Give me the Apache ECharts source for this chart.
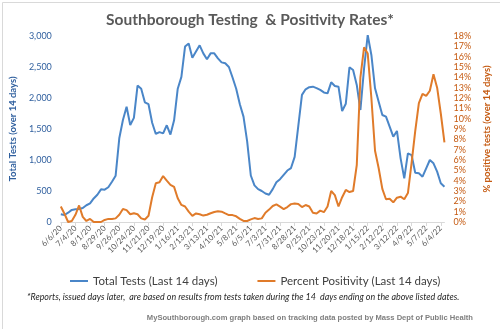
<!DOCTYPE html>
<html><head><meta charset="utf-8">
<script src="https://cdn.jsdelivr.net/npm/echarts@6/dist/echarts.min.js"></script>
<style>html,body{margin:0;padding:0;background:#fff}#c{width:500px;height:329px}</style>
</head><body><div id="c"></div>
<script>
const categories = ['6/6/20','6/13/20','6/20/20','6/27/20','7/4/20','7/11/20','7/18/20','7/25/20','8/1/20','8/8/20','8/15/20','8/22/20','8/29/20','9/5/20','9/12/20','9/19/20','9/26/20','10/3/20','10/10/20','10/17/20','10/24/20','10/31/20','11/7/20','11/14/20','11/21/20','11/28/20','12/5/20','12/12/20','12/19/20','12/26/20','1/2/21','1/9/21','1/16/21','1/23/21','1/30/21','2/6/21','2/13/21','2/20/21','2/27/21','3/6/21','3/13/21','3/20/21','3/27/21','4/3/21','4/10/21','4/17/21','4/24/21','5/1/21','5/8/21','5/15/21','5/22/21','5/29/21','6/5/21','6/12/21','6/19/21','6/26/21','7/3/21','7/10/21','7/17/21','7/24/21','7/31/21','8/7/21','8/14/21','8/21/21','8/28/21','9/4/21','9/11/21','9/18/21','9/25/21','10/2/21','10/9/21','10/16/21','10/23/21','10/30/21','11/6/21','11/13/21','11/20/21','11/27/21','12/4/21','12/11/21','12/18/21','12/25/21','1/1/22','1/8/22','1/15/22','1/22/22','1/29/22','2/5/22','2/12/22','2/19/22','2/26/22','3/5/22','3/12/22','3/19/22','3/26/22','4/2/22','4/9/22','4/16/22','4/23/22','4/30/22','5/7/22','5/14/22','5/21/22','5/28/22','6/4/22','6/11/22'];

const totalTests = [124,113,150,195,204,210,225,270,300,380,440,527,522,560,650,747,1350,1645,1860,1565,1680,2200,2150,1930,1900,1600,1420,1450,1430,1560,1410,1640,2150,2340,2830,2880,2650,2750,2850,2720,2624,2720,2720,2640,2575,2560,2500,2330,2150,1900,1700,1300,750,590,530,500,460,440,530,640,690,760,830,870,1050,1550,2050,2140,2175,2183,2160,2130,2090,2075,2253,2194,2183,1790,1908,2495,2452,2210,1806,2478,3016,2694,2156,1941,1726,1699,1538,1376,1468,1027,704,1107,1080,795,785,731,866,1000,946,812,624,570];

const percentPositivity = [1.5,0.8,0.0,0.1,0.7,1.6,0.5,0.1,0.3,0.0,0.0,0.0,0.2,0.3,0.3,0.35,0.7,1.25,1.15,0.75,0.85,0.75,0.35,0.25,0.6,2.4,3.75,3.85,4.45,4.0,3.6,3.4,2.3,1.65,1.5,1.0,0.6,0.83,0.75,0.62,0.7,0.85,0.97,1.05,1.0,0.83,0.67,0.67,0.55,0.3,0.1,0.1,0.25,0.38,0.3,0.35,0.9,1.2,1.55,1.7,1.48,1.25,1.45,1.73,1.8,1.75,1.45,1.64,1.5,0.9,0.83,1.1,0.95,1.5,3.0,2.6,1.5,2.4,3.1,2.9,3.0,5.5,14.0,16.9,16.3,12.0,6.9,5.2,3.2,2.2,2.25,1.9,2.35,2.45,2.2,2.8,5.7,8.8,11.5,12.4,12.2,12.7,14.3,13.0,10.5,7.7];

const leftTicks = {min: 0, max: 3000, interval: 500};
const rightTicks = {min: 0, max: 18, interval: 1};

const chart = echarts.init(document.getElementById('c'), null, {renderer: 'canvas'});
const F = 'Lato, "Liberation Sans", sans-serif';
chart.setOption({
  animation: false,
  backgroundColor: '#fff',
  title: {
    text: 'Southborough Testing  & Positivity Rates*',
    left: 'center', top: 7,
    textStyle: {fontFamily: F, fontSize: 15.5, fontWeight: 'bold', color: '#595959'}
  },
  legend: {
    left: 65, top: 270, width: 430, itemGap: 40, itemWidth: 18, itemHeight: 2,
    icon: 'rect',
    textStyle: {fontFamily: F, fontSize: 11.5, color: '#404040'},
    data: ['Total Tests (Last 14 days)', 'Percent Positivity (Last 14 days)']
  },
  grid: {left: 55, right: 48, top: 36, bottom: 107},
  xAxis: {
    type: 'category', data: categories, boundaryGap: false,
    axisLine: {lineStyle: {color: '#d9d9d9'}},
    axisTick: {interval: 3, length: 4, lineStyle: {color: '#d9d9d9'}},
    axisLabel: {interval: 3, rotate: 45, fontFamily: F, fontSize: 8, color: '#595959', margin: 5}
  },
  yAxis: [
    {
      type: 'value', min: leftTicks.min, max: leftTicks.max, interval: leftTicks.interval,
      name: 'Total Tests (over 14 days)', nameLocation: 'middle', nameGap: 41, nameRotate: 90,
      nameTextStyle: {fontFamily: F, fontSize: 9.5, fontWeight: 'bold', color: '#2F5F9E'},
      axisLine: {show: false}, axisTick: {show: false}, splitLine: {show: false},
      axisLabel: {fontFamily: F, fontSize: 9, color: '#2F5F9E', margin: 9,
        formatter: v => v.toLocaleString('en-US')}
    },
    {
      type: 'value', min: rightTicks.min, max: rightTicks.max, interval: rightTicks.interval,
      name: '% positive tests (over 14 days)', nameLocation: 'middle', nameGap: 30, nameRotate: 90,
      nameTextStyle: {fontFamily: F, fontSize: 9.5, fontWeight: 'bold', color: '#C55A11'},
      axisLine: {show: false}, axisTick: {show: false}, splitLine: {show: false},
      axisLabel: {fontFamily: F, fontSize: 9, color: '#C55A11', margin: 9, formatter: '{value}%'}
    }
  ],
  series: [
    {name: 'Total Tests (Last 14 days)', type: 'line', data: totalTests, yAxisIndex: 0,
     showSymbol: false, lineStyle: {color: '#4A86C8', width: 2}, itemStyle: {color: '#4A86C8'}},
    {name: 'Percent Positivity (Last 14 days)', type: 'line', data: percentPositivity, yAxisIndex: 1,
     showSymbol: false, lineStyle: {color: '#E07B2A', width: 2}, itemStyle: {color: '#E07B2A'}}
  ],
  graphic: [
    {type: 'rect', left: 0, top: 0, shape: {x: 0.5, y: 0.5, width: 498, height: 327},
     style: {fill: 'none', stroke: '#d9d9d9', lineWidth: 1}, silent: true},
    {type: 'text', left: 27, top: 293,
     style: {text: '*Reports, issued days later,  are based on results from tests taken during the 14  days ending on the above listed dates.',
       font: 'italic 8.9px ' + F, fill: '#262626'}},
    {type: 'text', right: 27, top: 314,
     style: {text: 'MySouthborough.com graph based on tracking data posted by Mass Dept of Public Health',
       font: 'bold 7.6px "Liberation Sans", Arial, sans-serif', fill: '#7f7f7f'}}
  ]
});
</script></body></html>
